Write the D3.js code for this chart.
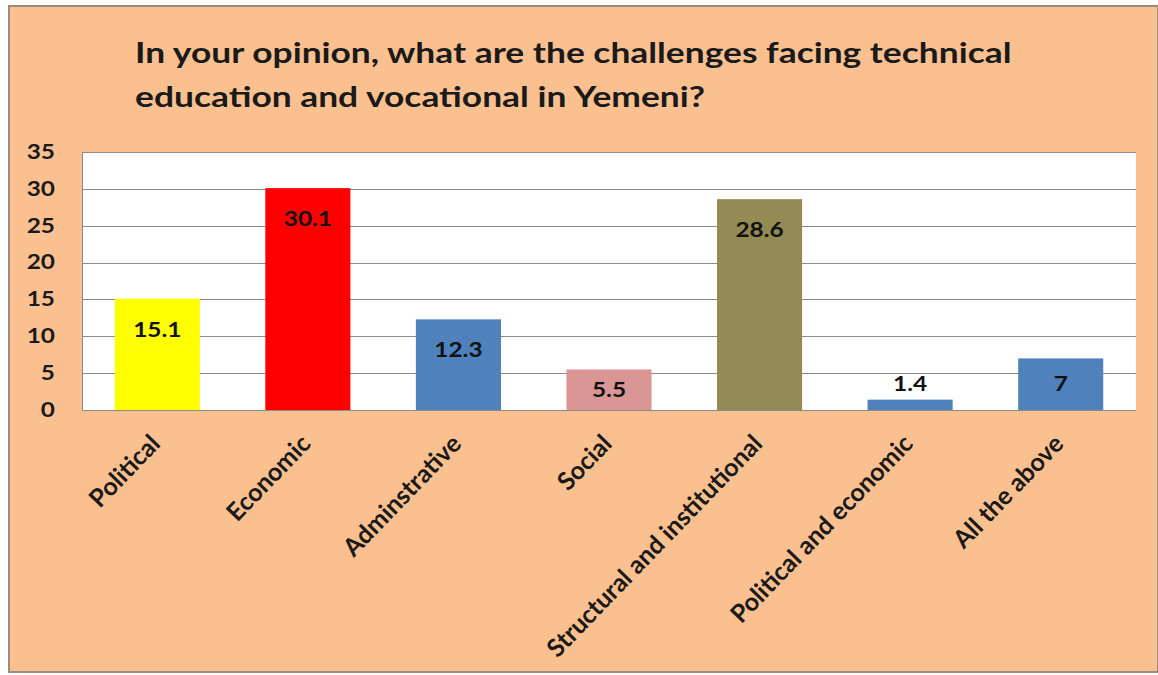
<!DOCTYPE html>
<html><head><meta charset="utf-8">
<script src="https://cdn.jsdelivr.net/npm/d3@7/dist/d3.min.js"></script>
<style>html,body{margin:0;padding:0;background:#fff;}svg{display:block;}</style>
</head><body>
<script>
const titleLines = ["In your opinion, what are the challenges facing technical", "education and vocational in Yemeni?"];
const categories = ["Political", "Economic", "Adminstrative", "Social", "Structural and institutional", "Political and economic", "All the above"];
const values = [15.1, 30.1, 12.3, 5.5, 28.6, 1.4, 7];
const valueLabels = ["15.1", "30.1", "12.3", "5.5", "28.6", "1.4", "7"];
const barColors = ["#FFFF00", "#FF0000", "#4F81BD", "#D99694", "#948A54", "#4F81BD", "#4F81BD"];
const yTicks = [0, 5, 10, 15, 20, 25, 30, 35];

const W = 1158, H = 675;
const font = "Lato, 'Open Sans', sans-serif";
const sx = 1.22; // horizontal stretch of the reference's text
const svg = d3.select("body").append("svg").attr("width", W).attr("height", H);

// chart area background & frame
svg.append("rect").attr("x", 9).attr("y", 6).attr("width", W - 9).attr("height", 666)
  .attr("fill", "#FAC090").attr("stroke", "#9a8c80").attr("stroke-width", 2);

const m = {left: 82, right: 1136, top: 152, bottom: 410};
const x = d3.scaleBand().domain(categories).range([m.left, m.right]).paddingInner(0.435).paddingOuter(0.2175);
const y = d3.scaleLinear().domain([0, 35]).range([m.bottom, m.top]);

svg.append("rect").attr("x", m.left).attr("y", m.top).attr("width", m.right - m.left).attr("height", m.bottom - m.top).attr("fill", "#fff");

// gridlines
svg.append("g").selectAll("line").data(yTicks).join("line")
  .attr("x1", m.left).attr("x2", m.right)
  .attr("y1", d => Math.round(y(d)) + 0.5).attr("y2", d => Math.round(y(d)) + 0.5)
  .attr("stroke", "#8a8a8a").attr("stroke-width", 1);

// y axis
const yAxis = svg.append("g").attr("transform", `translate(${m.left},0)`)
  .call(d3.axisLeft(y).tickValues(yTicks).tickSize(0).tickPadding(0));
yAxis.select(".domain").attr("stroke", "#8a8a8a");
yAxis.selectAll(".tick text")
  .attr("x", null).attr("transform", `translate(-27,0) scale(${sx},1)`)
  .attr("font-family", font).attr("font-weight", "bold").attr("font-size", "20px").attr("fill", "#1a1a1a");

// bars
svg.append("g").selectAll("rect").data(values).join("rect")
  .attr("x", (d, i) => x(categories[i])).attr("width", x.bandwidth())
  .attr("y", d => y(d)).attr("height", d => y(0) - y(d))
  .attr("fill", (d, i) => barColors[i]);

// x axis line
svg.append("line").attr("x1", m.left).attr("x2", m.right).attr("y1", m.bottom + 0.5).attr("y2", m.bottom + 0.5).attr("stroke", "#8a8a8a");

// value labels
svg.append("g").selectAll("text").data(values).join("text")
  .attr("transform", (d, i) => {
    const top = y(d), h = y(0) - y(d);
    const cy = h < 20 ? top - 16 : top + Math.min(31, h / 2);
    return `translate(${x(categories[i]) + x.bandwidth() / 2},${cy}) scale(${sx},1)`;
  })
  .attr("dy", "0.35em").attr("text-anchor", "middle")
  .attr("font-family", font).attr("font-weight", "bold").attr("font-size", "20px").attr("fill", "#111")
  .text((d, i) => valueLabels[i]);

// x labels
svg.append("g").selectAll("text").data(categories).join("text")
  .attr("transform", d => `translate(${x(d) + x.bandwidth() / 2 - 2},${439}) rotate(-46)`)
  .attr("text-anchor", "end").attr("dy", "0.35em")
  .attr("font-family", font).attr("font-weight", "bold").attr("font-size", "25px").attr("fill", "#1a1a1a")
  .text(d => d);

// title
svg.append("g").selectAll("text").data(titleLines).join("text")
  .attr("transform", (d, i) => `translate(135,${63 + i * 44}) scale(${sx},1)`)
  .attr("font-family", font).attr("font-weight", "bold").attr("font-size", "29px").attr("fill", "#1a1a1a")
  .text(d => d);
</script>
</body></html>
